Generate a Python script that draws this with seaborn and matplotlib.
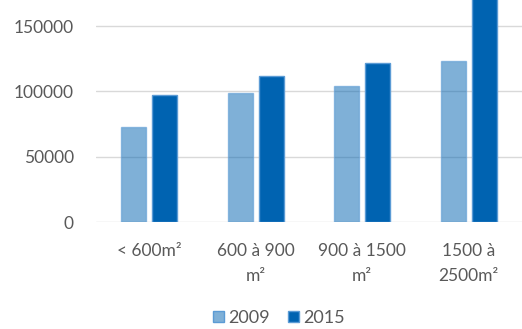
import matplotlib
matplotlib.use("Agg")
import matplotlib.pyplot as plt
import seaborn as sns
import pandas as pd

# Surface classes and average values per year
categories = ["< 600m²", "600 à 900\nm²", "900 à 1500\nm²", "1500 à\n2500m²"]
years = ["2009", "2015"]
values_2009 = [73000, 99000, 104000, 123000]
values_2015 = [97000, 112000, 122000, 185000]
y_ticks = [0, 50000, 100000, 150000]

df = pd.DataFrame({
    "categorie": categories * 2,
    "annee": [years[0]] * len(categories) + [years[1]] * len(categories),
    "valeur": values_2009 + values_2015,
})

sns.set_theme(style="white")
plt.rcParams["font.family"] = ["Lato", "DejaVu Sans"]

fig = plt.figure(figsize=(5.22, 3.29), dpi=100)
ax = fig.add_axes([0.184, 0.325, 0.816, 0.675])

blue = "#0063B1"
sns.barplot(data=df, x="categorie", y="valeur", hue="annee",
            palette={years[0]: blue, years[1]: blue},
            width=0.58, gap=0.19, ax=ax, legend=True,
            edgecolor="#5B9BD5", linewidth=1.0, saturation=1)

# 2009 bars are the same blue at half opacity
for bar in ax.containers[0]:
    bar.set_facecolor((0 / 255, 99 / 255, 177 / 255, 0.5))
    bar.set_edgecolor((91 / 255, 155 / 255, 213 / 255, 0.6))

ax.set_ylim(0, 170000)
ax.set_yticks(y_ticks)
ax.set_yticklabels([str(v) for v in y_ticks])
ax.yaxis.grid(True, color="#D9D9D9", linewidth=1.0)
ax.set_axisbelow(True)
for s in ax.spines.values():
    s.set_visible(False)
ax.set_xlabel("")
ax.set_ylabel("")
ax.tick_params(axis="y", length=0, pad=16, labelsize=12.5, labelcolor="#595959")
ax.tick_params(axis="x", length=0, pad=15, labelsize=12.5, labelcolor="#595959")
for lbl in ax.get_xticklabels():
    lbl.set_linespacing(1.7)

handles, labels = ax.get_legend_handles_labels()
ax.legend_.remove()
handles[0].set_facecolor((0 / 255, 99 / 255, 177 / 255, 0.5))
fig.legend(handles, labels, loc="lower center", bbox_to_anchor=(0.535, -0.04),
           ncol=2, frameon=False, fontsize=13, handlelength=0.6, handleheight=0.6,
           handletextpad=0.25, columnspacing=1.0, labelcolor="#595959")

fig.savefig("out.png", dpi=100)
